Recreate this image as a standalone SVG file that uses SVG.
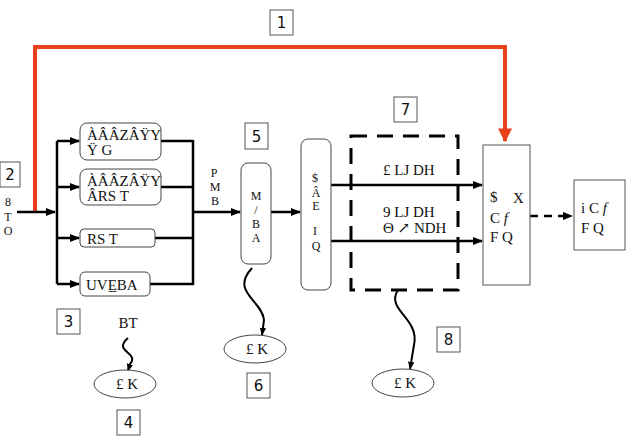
<svg xmlns="http://www.w3.org/2000/svg" width="633" height="442" viewBox="0 0 633 442">
<style>
.t{font-family:"Liberation Serif","DejaVu Serif",serif;font-size:15px;fill:#111}
.s{font-family:"Liberation Serif","DejaVu Serif",serif;font-size:12px;fill:#111;text-anchor:middle}
.n{font-family:"DejaVu Sans","Liberation Sans",sans-serif;font-size:15px;fill:#111;text-anchor:middle}
.nb{fill:#fff;stroke:#555;stroke-width:1}
.rb{fill:#fff;stroke:#444;stroke-width:1}
.ln{fill:none;stroke:#000;stroke-width:2.5}
.ar{fill:none;stroke:#000;stroke-width:2.5;marker-end:url(#ah)}
.sq{fill:none;stroke:#000;stroke-width:2;marker-end:url(#ah)}
</style>
<defs>
<marker id="ah" viewBox="0 0 10 10" refX="9" refY="5" markerWidth="4" markerHeight="4" orient="auto" markerUnits="strokeWidth"><path d="M0,1 L10,5 L0,9 z" fill="#000"/></marker>
<marker id="ahr" viewBox="0 0 10 10" refX="9" refY="5" markerWidth="3.5" markerHeight="3.5" orient="auto" markerUnits="strokeWidth"><path d="M0,0 L10,5 L0,10 z" fill="#e8401c"/></marker>
</defs>
<g id="connectors">
<path d="M35,212 V47 H505 V141" fill="none" stroke="#e8401c" stroke-width="4" marker-end="url(#ahr)"/>
<path class="ar" d="M17,212 H55"/>
<path class="ln" d="M57,141 V284"/>
<path class="ar" d="M57,141 H79"/>
<path class="ar" d="M57,187 H79"/>
<path class="ar" d="M57,238 H79"/>
<path class="ar" d="M57,284 H79"/>
<path class="ln" d="M161,141 H193 M161,187 H193 M155,238 H193 M150,284 H193 M193,140 V285"/>
<path class="ar" d="M193,212 H240"/>
<path class="ar" d="M271,212 H300"/>
<path class="ar" d="M331,185 H482"/>
<path class="ar" d="M331,241 H482"/>
<path d="M530,216 H572" fill="none" stroke="#000" stroke-width="2.5" stroke-dasharray="8,6" marker-end="url(#ah)"/>
<path class="sq" d="M128,338 C112,352 140,352 130,364 L128,371"/>
<path class="sq" d="M252,268 C230,292 262,300 264,320 L262,335"/>
<path class="sq" d="M398,290 C385,310 420,318 414,345 L410,369"/>
</g>
<g id="n1"><rect class="nb" x="270" y="10" width="23" height="25"/><text class="n" x="281.5" y="28">1</text></g>
<g id="n2"><rect class="nb" x="0" y="162" width="20" height="25"/><text class="n" x="10" y="180">2</text></g>
<g id="n3"><rect class="nb" x="57" y="309" width="23" height="25"/><text class="n" x="68.5" y="327">3</text></g>
<g id="n4"><rect class="nb" x="117" y="410" width="23" height="25"/><text class="n" x="128.5" y="428">4</text></g>
<g id="n5"><rect class="nb" x="245" y="123" width="23" height="26"/><text class="n" x="256.5" y="142">5</text></g>
<g id="n6"><rect class="nb" x="247" y="373" width="23" height="25"/><text class="n" x="258.5" y="391">6</text></g>
<g id="n7"><rect class="nb" x="394" y="97" width="23" height="25"/><text class="n" x="405.5" y="115">7</text></g>
<g id="n8"><rect class="nb" x="437" y="327" width="23" height="25"/><text class="n" x="448.5" y="345">8</text></g>
<g id="inlabel"><text class="s" x="8" y="206" font-size="9">8</text><text class="s" x="8" y="221" font-size="13">T</text><text class="s" x="8" y="235" font-size="13">O</text></g>
<g id="boxA"><rect class="rb" x="80" y="123" width="81" height="37" rx="7"/><text class="t" x="87" y="140">ÀÂÂZÂŸY</text><text class="t" x="87" y="155" font-size="12">Ÿ G</text></g>
<g id="boxB"><rect class="rb" x="80" y="169" width="81" height="36" rx="7"/><text class="t" x="87" y="186">ÀÂÂZÂŸY</text><text class="t" x="87" y="201">ÂRS T</text></g>
<g id="boxC"><rect class="rb" x="80" y="229" width="75" height="18" rx="4"/><text class="t" x="87" y="244">RS T</text></g>
<g id="boxD"><rect class="rb" x="80" y="272" width="70" height="24" rx="5"/><text class="t" x="86" y="290">UVE̲BA</text></g>
<g id="pmb"><text class="s" x="214" y="177" font-size="10">P</text><text class="s" x="215" y="191">M</text><text class="s" x="215" y="205">B</text></g>
<g id="box5"><rect class="rb" x="241" y="163" width="30" height="101" rx="7"/><text class="s" x="256" y="200">M</text><text class="s" x="256" y="214">/</text><text class="s" x="256" y="228">B</text><text class="s" x="256" y="242">A</text></g>
<g id="tall"><rect class="rb" x="301" y="139" width="30" height="151" rx="7"/><text class="s" x="315" y="182" font-size="9">$</text><text class="s" x="316" y="197" font-size="11">Â</text><text class="s" x="316" y="210" font-size="11">E</text><text class="s" x="315" y="235">I</text><text class="s" x="316" y="250">Q</text></g>
<g id="lbl1"><text class="t" x="383" y="175" font-size="13">£ LJ DH</text></g>
<g id="lbl2"><text class="t" x="383" y="217" font-size="12">9 LJ DH</text><text class="t" x="383" y="233" font-size="11">Θ ↗ NDH</text></g>
<g id="dash"><rect x="351" y="136" width="107" height="154" fill="none" stroke="#000" stroke-width="3" stroke-dasharray="16,10"/></g>
<g id="sink"><rect class="nb" x="483" y="145" width="47" height="140"/><text class="t" x="490" y="202" font-size="11">$</text><text class="t" x="513" y="203">X</text><text class="t" x="490" y="223">C <tspan font-style="italic">f</tspan></text><text class="t" x="490" y="242">F Q</text></g>
<g id="out"><rect class="nb" x="574" y="180" width="51" height="70"/><text class="t" x="581" y="213" font-size="12">i C <tspan font-style="italic">f</tspan></text><text class="t" x="581" y="233">F Q</text></g>
<g id="bt"><text class="t" x="128" y="328" text-anchor="middle">BT</text></g>
<g id="e4"><ellipse class="rb" cx="125" cy="384" rx="31" ry="14"/><text class="t" x="127" y="389" text-anchor="middle">£ K</text></g>
<g id="e6"><ellipse class="rb" cx="255" cy="349" rx="31" ry="14"/><text class="t" x="257" y="354" text-anchor="middle">£ K</text></g>
<g id="e8"><ellipse class="rb" cx="403" cy="383" rx="31" ry="14"/><text class="t" x="405" y="388" text-anchor="middle">£ K</text></g>
</svg>
